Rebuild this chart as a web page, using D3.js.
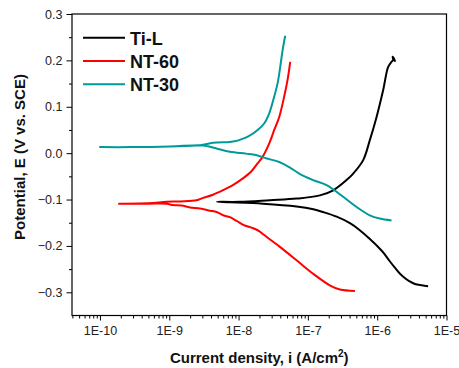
<!DOCTYPE html>
<html>
<head>
<meta charset="utf-8">
<script src="https://cdn.jsdelivr.net/npm/d3@7"></script>
<style>
  html, body { margin: 0; padding: 0; background: #fff; }
  svg { display: block; font-family: "Liberation Sans", Arial, sans-serif; }
</style>
</head>
<body>
<svg id="chart" width="459" height="368"></svg>
<script>
// Potentiodynamic polarization curves: [current density (A/cm²), potential (V vs. SCE)]
// Each sample is split into its cathodic and anodic branch, both starting at Ecorr.
const tiLCathodic = [
  [4.9e-9, -0.105], [7.5e-9, -0.106], [2.24e-8, -0.109], [6.87e-8, -0.115],
  [1.2e-7, -0.121], [1.66e-7, -0.127], [2.6e-7, -0.137], [4.04e-7, -0.151],
  [5.5e-7, -0.165], [7.83e-7, -0.185], [1.0e-6, -0.200], [1.22e-6, -0.214],
  [1.5e-6, -0.232], [1.80e-6, -0.247], [2.1e-6, -0.259], [2.45e-6, -0.268],
  [2.9e-6, -0.276], [3.5e-6, -0.282], [4.4e-6, -0.285], [5.43e-6, -0.287]
];
const tiLAnodic = [
  [4.9e-9, -0.105], [1.04e-8, -0.105], [2.83e-8, -0.1015], [6.87e-8, -0.098],
  [1.49e-7, -0.091], [2.32e-7, -0.080], [3.61e-7, -0.058], [4.51e-7, -0.044],
  [6.28e-7, -0.015], [7.83e-7, 0.028], [9.8e-7, 0.078], [1.22e-6, 0.136],
  [1.44e-6, 0.186], [1.61e-6, 0.197], [1.70e-6, 0.201], [1.67e-6, 0.208],
  [1.73e-6, 0.205], [1.82e-6, 0.197]
];

const nt60Cathodic = [
  [1.88e-10, -0.109], [5.0e-10, -0.109], [9.16e-10, -0.109], [1.13e-9, -0.112],
  [1.5e-9, -0.113], [1.99e-9, -0.117], [2.77e-9, -0.1195], [3.86e-9, -0.124],
  [4.82e-9, -0.127], [6.0e-9, -0.134], [7.5e-9, -0.138], [9.38e-9, -0.146],
  [1.17e-8, -0.1545], [1.63e-8, -0.162], [2.03e-8, -0.169], [2.26e-8, -0.175],
  [3.94e-8, -0.202], [6.87e-8, -0.231], [1.19e-7, -0.260], [2.07e-7, -0.285],
  [2.90e-7, -0.294], [4.77e-7, -0.297]
];
const nt60Anodic = [
  [1.88e-10, -0.109], [5.0e-10, -0.108], [9.16e-10, -0.105], [1.43e-9, -0.104],
  [2.48e-9, -0.1015], [3.06e-9, -0.0965], [4.27e-9, -0.0896], [5.94e-9, -0.080],
  [8.27e-9, -0.069], [1.14e-8, -0.055], [1.51e-8, -0.040], [1.88e-8, -0.022],
  [2.22e-8, -0.008], [2.77e-8, 0.021], [3.27e-8, 0.050], [3.86e-8, 0.078],
  [4.55e-8, 0.122], [5.09e-8, 0.158], [5.56e-8, 0.197]
];

const nt30Cathodic = [
  [1.0e-10, 0.013], [2.71e-10, 0.013], [1.02e-9, 0.0145], [2.77e-9, 0.017],
  [3.46e-9, 0.0155], [4.82e-9, 0.010], [7.5e-9, 0.003], [1.28e-8, -0.001],
  [1.78e-8, -0.004], [2.48e-8, -0.011], [3.86e-8, -0.019], [5.37e-8, -0.030],
  [7.50e-8, -0.044], [1.19e-7, -0.058], [1.86e-7, -0.069], [3.23e-7, -0.094],
  [5.05e-7, -0.116], [7.83e-7, -0.134], [1.09e-6, -0.141], [1.61e-6, -0.145]
];
const nt30Anodic = [
  [1.0e-10, 0.013], [2.71e-10, 0.013], [1.02e-9, 0.0145], [2.77e-9, 0.017],
  [4.27e-9, 0.0225], [7.5e-9, 0.024], [9.17e-9, 0.026], [1.02e-8, 0.028],
  [1.42e-8, 0.037], [1.88e-8, 0.050], [2.34e-8, 0.064], [2.77e-8, 0.086],
  [3.16e-8, 0.114], [3.66e-8, 0.151], [3.99e-8, 0.186], [4.32e-8, 0.222],
  [4.71e-8, 0.253]
];

const seriesNames = ["Ti-L", "NT-60", "NT-30"];
const seriesColors = ["#000000", "#ff0000", "#009a9a"];
const seriesBranches = [
  [tiLCathodic, tiLAnodic],
  [nt60Cathodic, nt60Anodic],
  [nt30Cathodic, nt30Anodic]
];

const xTickValues = [1e-10, 1e-9, 1e-8, 1e-7, 1e-6, 1e-5];
const xTickLabels = ["1E-10", "1E-9", "1E-8", "1E-7", "1E-6", "1E-5"];
const yTickValues = [-0.3, -0.2, -0.1, 0.0, 0.1, 0.2, 0.3];
const xDomain = [3.95e-11, 1e-5];
const yDomain = [-0.35, 0.3];

const svg = d3.select("#chart");
const margin = { left: 72, right: 12.5, top: 14, bottom: 52.5 };
const W = 459, H = 368;

const x = d3.scaleLog().domain(xDomain).range([margin.left, W - margin.right]);
const y = d3.scaleLinear().domain(yDomain).range([H - margin.bottom, margin.top]);

// Minor ticks: 2..9 in each decade, 0.05 V steps on potential
const xMinor = [];
for (let e = -11; e <= -6; e++) {
  for (let m = 2; m <= 9; m++) {
    const v = m * Math.pow(10, e);
    if (v >= xDomain[0] && v <= xDomain[1]) xMinor.push(v);
  }
}
const yMinor = d3.range(-0.35, 0.3001, 0.05).map(v => +v.toFixed(2))
  .filter(v => !yTickValues.some(t => Math.abs(t - v) < 1e-6) && v > -0.35);

const axisColor = "#000";
const gx = svg.append("g").attr("transform", `translate(0,${y.range()[0]})`);
gx.call(d3.axisBottom(x).tickValues(xMinor).tickSize(3).tickFormat(""));
gx.call(g => g.select(".domain").remove());
const gx2 = svg.append("g").attr("transform", `translate(0,${y.range()[0]})`);
gx2.call(d3.axisBottom(x).tickValues(xTickValues).tickSize(5).tickPadding(6)
  .tickFormat((d, i) => xTickLabels[i]));
gx2.select(".domain").remove();
gx2.selectAll("text").attr("font-size", 12.5).attr("fill", "#222")
  .attr("font-family", "Liberation Sans, Arial, sans-serif");

const gy = svg.append("g").attr("transform", `translate(${x.range()[0]},0)`);
gy.call(d3.axisLeft(y).tickValues(yMinor).tickSize(3).tickFormat(""));
gy.call(g => g.select(".domain").remove());
const gy2 = svg.append("g").attr("transform", `translate(${x.range()[0]},0)`);
gy2.call(d3.axisLeft(y).tickValues(yTickValues).tickSize(5.5).tickPadding(4)
  .tickFormat(d3.format(".1f")));
gy2.select(".domain").remove();
gy2.selectAll("text").attr("font-size", 12.5).attr("fill", "#222")
  .attr("font-family", "Liberation Sans, Arial, sans-serif");

svg.selectAll(".tick line").attr("stroke", axisColor).attr("stroke-width", 1);

// Frame around the plot area
svg.append("rect")
  .attr("x", x.range()[0]).attr("y", y.range()[1])
  .attr("width", x.range()[1] - x.range()[0])
  .attr("height", y.range()[0] - y.range()[1])
  .attr("fill", "none").attr("stroke", axisColor).attr("stroke-width", 1.2);

// Polarization curves: cathodic branch walked back to Ecorr, then the anodic branch
const line = d3.line()
  .x(d => x(d[0]))
  .y(d => y(d[1]))
  .curve(d3.curveCatmullRom.alpha(0.5));

seriesBranches.forEach((br, k) => {
  const pts = br[0].slice().reverse().concat(br[1].slice(1));
  svg.append("path")
    .datum(pts)
    .attr("d", line)
    .attr("fill", "none")
    .attr("stroke", seriesColors[k])
    .attr("stroke-width", 2)
    .attr("stroke-linejoin", "round");
});

// Legend
const legend = svg.append("g");
seriesNames.forEach((name, k) => {
  const ly = 37.7 + k * 23.3;
  legend.append("line")
    .attr("x1", 83).attr("x2", 125).attr("y1", ly).attr("y2", ly)
    .attr("stroke", seriesColors[k]).attr("stroke-width", 2);
  legend.append("text")
    .attr("x", 130).attr("y", ly + 6.8)
    .attr("font-size", 18).attr("font-weight", "bold").attr("fill", "#111")
    .text(name);
});

// Axis titles
const xt = svg.append("text")
  .attr("x", (x.range()[0] + x.range()[1]) / 2)
  .attr("y", 362.5)
  .attr("text-anchor", "middle")
  .attr("font-size", 15).attr("font-weight", "bold").attr("fill", "#111");
xt.append("tspan").text("Current density, i (A/cm");
xt.append("tspan").attr("dy", -6).attr("font-size", 10).text("2");
xt.append("tspan").attr("dy", 6).text(")");

svg.append("text")
  .attr("transform", "translate(25,157) rotate(-90)")
  .attr("text-anchor", "middle")
  .attr("font-size", 15).attr("font-weight", "bold").attr("fill", "#111")
  .text("Potential, E (V vs. SCE)");
</script>
</body>
</html>
